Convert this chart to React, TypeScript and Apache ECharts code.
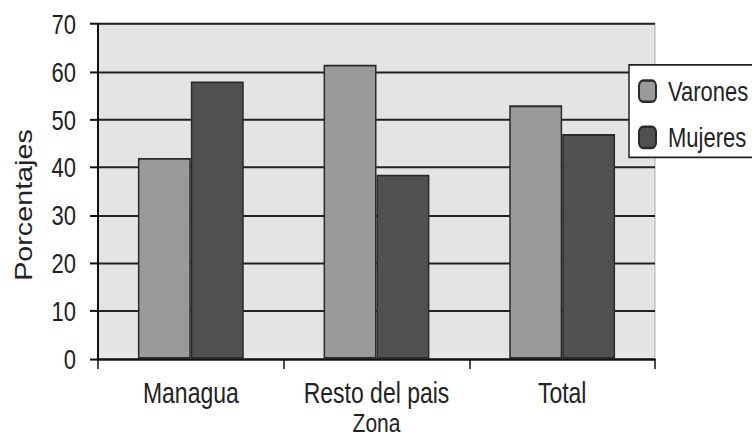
import React, { useEffect, useRef } from "react";
import * as echarts from "echarts";

const categories = ["Managua", "Resto del pais", "Total"];
const varones = [42, 61.5, 53];
const mujeres = [58, 38.5, 47];
const seriesNames = ["Varones", "Mujeres"];
const xAxisName = "Zona";
const yAxisName = "Porcentajes";

const FONT = "'Liberation Sans', Arial, sans-serif";
// the reference is a vertically stretched scan: draw at a reduced height and stretch it
const W = 752;
const H = 350;
const SY = 437 / H;

export default function App() {
  const ref = useRef<HTMLDivElement>(null);
  useEffect(() => {
    if (!ref.current) return;
    const chart = echarts.init(ref.current, undefined, { renderer: "svg" });
    chart.setOption({
      animation: false,
      backgroundColor: "#ffffff",
      grid: {
        left: 98,
        top: 19.2,
        right: 97,
        bottom: 62.5,
        containLabel: false,
        outerBoundsMode: "none",
        show: true,
        backgroundColor: "#e4e4e4",
        borderColor: "#b0b0b0",
        borderWidth: 1,
      },
      legend: {
        orient: "vertical",
        left: 629,
        top: 52,
        padding: [10, 30, 5, 9],
        itemGap: 15,
        itemWidth: 17,
        itemHeight: 17,
        backgroundColor: "#ffffff",
        borderColor: "#222",
        borderWidth: 1.5,
        textStyle: { fontFamily: FONT, fontSize: 22, lineHeight: 22, color: "#222", padding: [0, 0, 0, 7] },
        data: seriesNames,
      },
      graphic: [
        {
          type: "text",
          x: 24,
          y: 164.2,
          rotation: Math.PI / 2,
          style: {
            text: yAxisName,
            fontFamily: FONT,
            fontSize: 23,
            fill: "#222",
            align: "center",
            verticalAlign: "middle",
          },
        },
      ],
      xAxis: {
        type: "category",
        data: categories,
        name: xAxisName,
        nameLocation: "middle",
        nameGap: 40,
        nameMoveOverlap: false,
        nameTextStyle: { fontFamily: FONT, fontSize: 21, lineHeight: 22, color: "#222" },
        axisLine: { lineStyle: { color: "#111", width: 1.6 } },
        axisTick: { show: true, length: 8, lineStyle: { color: "#111", width: 1.5 } },
        axisLabel: { fontFamily: FONT, fontSize: 23, lineHeight: 24, color: "#222", margin: 15, interval: 0 },
        splitLine: { show: false },
      },
      yAxis: {
        type: "value",
        min: 0,
        max: 70,
        interval: 10,
        axisLine: { show: true, lineStyle: { color: "#111", width: 2 } },
        axisTick: { show: true, length: 8, lineStyle: { color: "#111", width: 1.6 } },
        axisLabel: { fontFamily: FONT, fontSize: 22, color: "#222", margin: 22 },
        splitLine: { show: true, lineStyle: { color: "#222", width: 1.6 } },
      },
      series: [
        {
          name: seriesNames[0],
          type: "bar",
          data: varones,
          barGap: "0%",
          barCategoryGap: "43%",
          itemStyle: { color: "#9a9a9a", borderColor: "#2a2a2a", borderWidth: 1.5 },
        },
        {
          name: seriesNames[1],
          type: "bar",
          data: mujeres,
          barGap: "0%",
          barCategoryGap: "43%",
          itemStyle: { color: "#505050", borderColor: "#2a2a2a", borderWidth: 1.5 },
        },
      ],
    });
    return () => chart.dispose();
  }, []);
  return (
    <div
      style={{ position: "absolute", left: 0, top: 0, width: W, height: 437, overflow: "hidden" }}
    >
      <div
        ref={ref}
        style={{
          width: W,
          height: H,
          transform: `scaleY(${SY})`,
          transformOrigin: "0 0",
        }}
      />
    </div>
  );
}
